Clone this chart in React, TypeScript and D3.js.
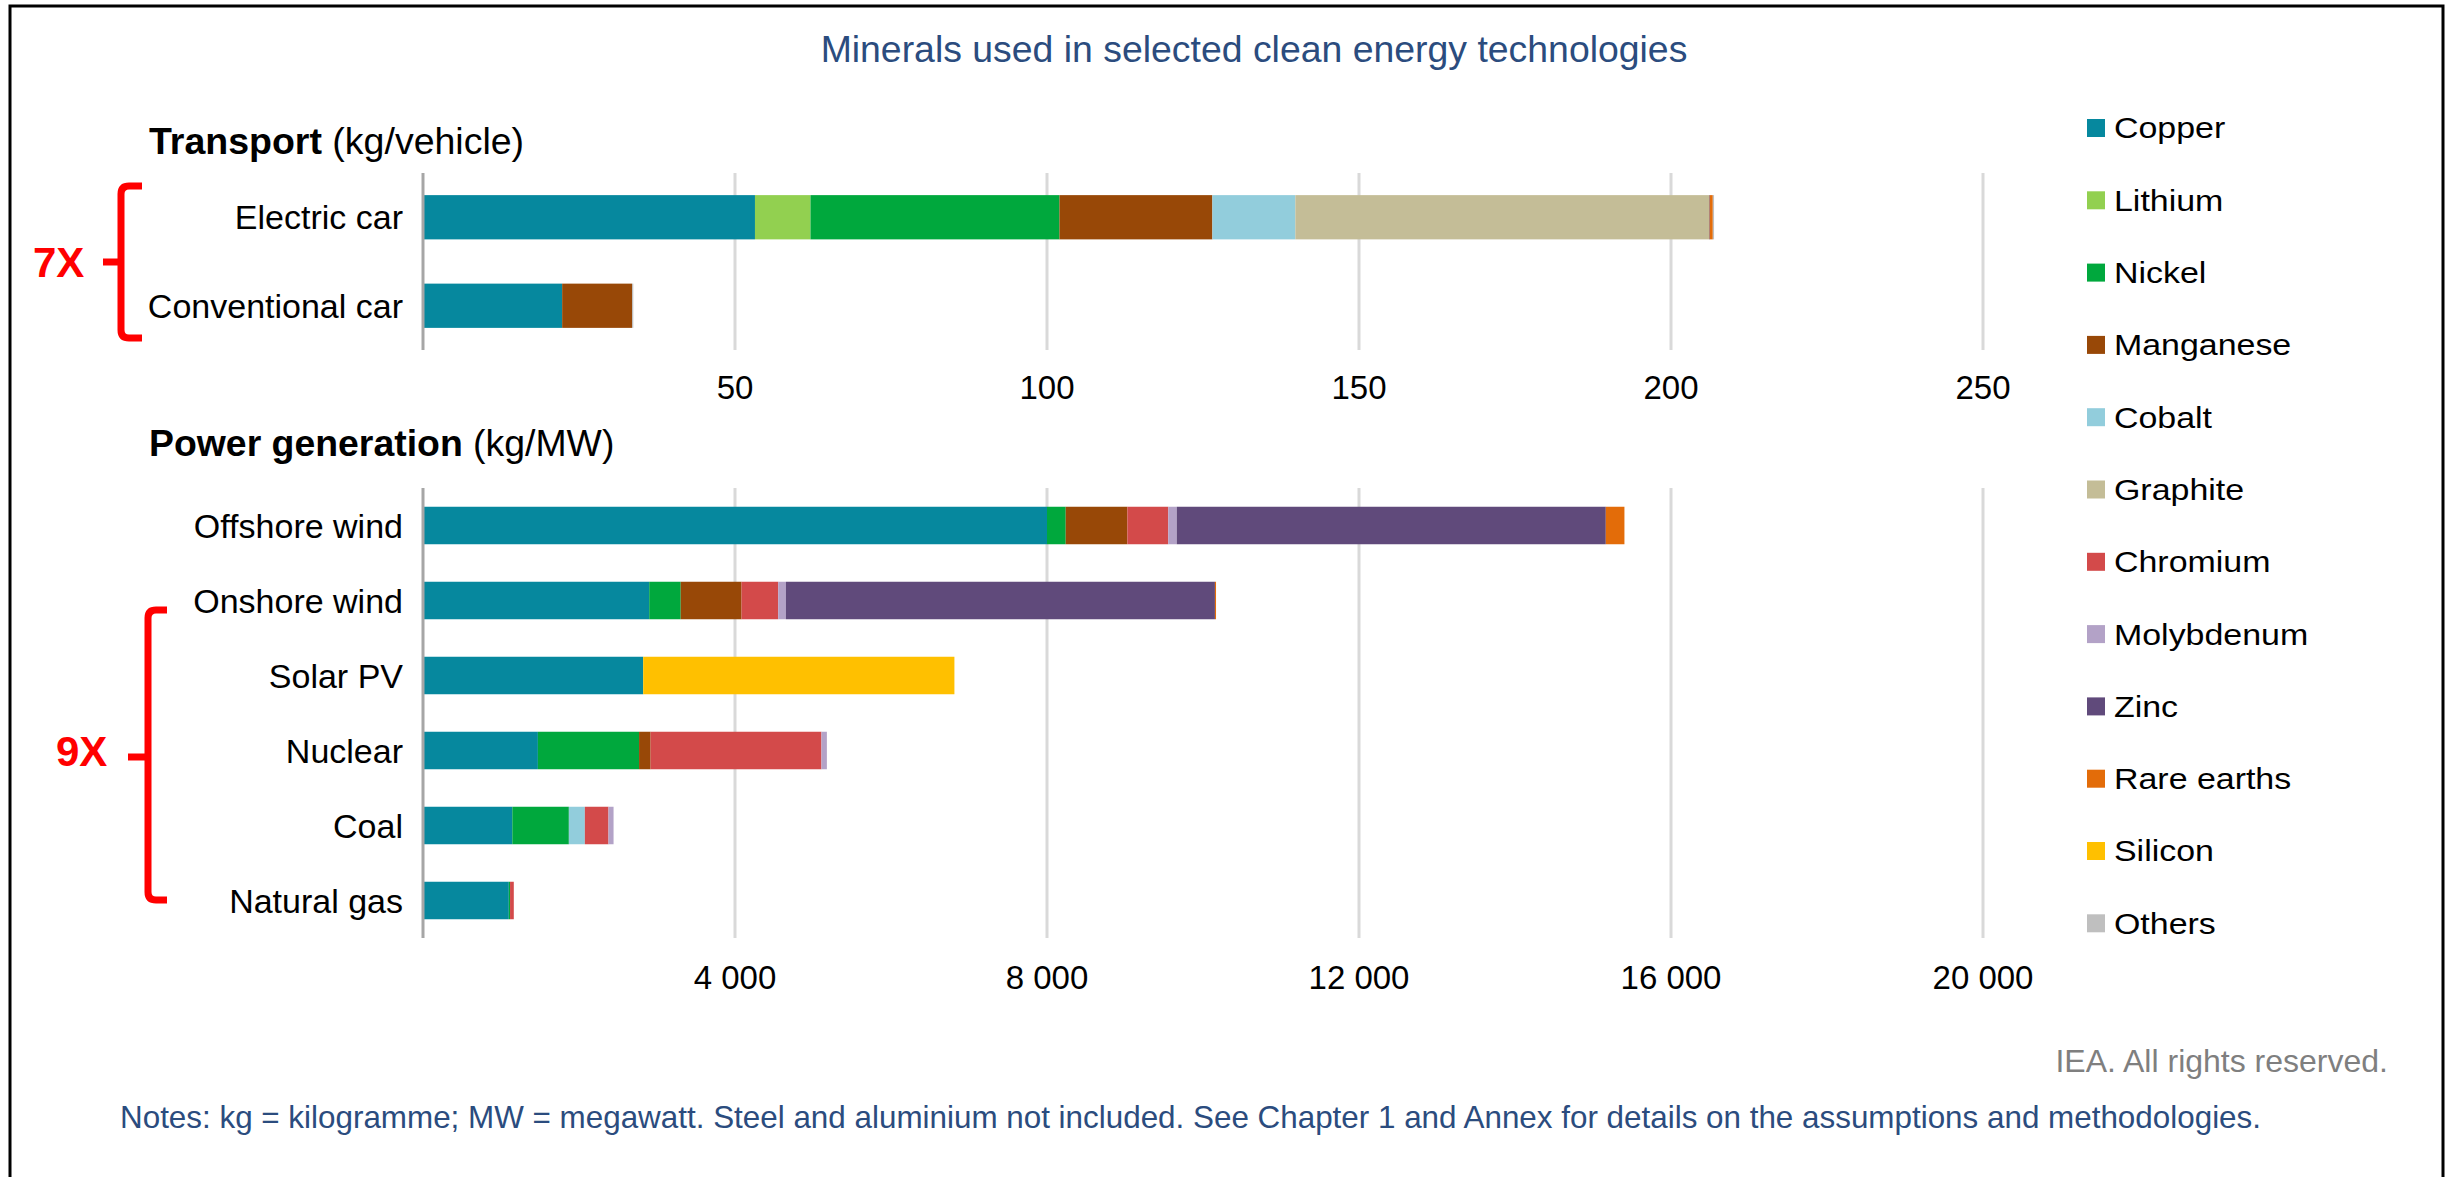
import React from "react";
import * as d3 from "d3";

const minerals = ["Copper", "Lithium", "Nickel", "Manganese", "Cobalt", "Graphite", "Chromium", "Molybdenum", "Zinc", "Rare earths", "Silicon", "Others"];
const mineralColors = ["#06889E", "#92D050", "#00A83D", "#984807", "#92CDDC", "#C4BD97", "#D34A4A", "#B3A2C7", "#604A7B", "#E36C09", "#FFC000", "#BFBFBF"];

// Transport (kg/vehicle)
const transportCats = ["Electric car", "Conventional car"];
const copperT = [53.2, 22.3];
const lithiumT = [8.9, 0];
const nickelT = [39.9, 0];
const manganeseT = [24.5, 11.2];
const cobaltT = [13.3, 0];
const graphiteT = [66.3, 0];
const chromiumT = [0, 0];
const molybdenumT = [0, 0];
const zincT = [0.1, 0];
const rareEarthsT = [0.5, 0];
const siliconT = [0, 0];
const othersT = [0.2, 0.2];
const transportTicks = [50, 100, 150, 200, 250];

// Power generation (kg/MW)
const powerCats = ["Offshore wind", "Onshore wind", "Solar PV", "Nuclear", "Coal", "Natural gas"];
const copperP = [8000, 2900, 2822, 1473, 1145, 1100];
const lithiumP = [0, 0, 0, 0, 0, 0];
const nickelP = [240, 404, 1, 1297, 725, 16];
const manganeseP = [790, 780, 0, 148, 0, 0];
const cobaltP = [0, 0, 0, 0, 205, 0];
const graphiteP = [0, 0, 0, 0, 0, 0];
const chromiumP = [525, 470, 0, 2190, 303, 48];
const molybdenumP = [109, 99, 0, 70, 65, 0];
const zincP = [5500, 5500, 0, 0, 0, 0];
const rareEarthsP = [239, 14, 0, 0, 0, 0];
const siliconP = [0, 0, 3990, 0, 0, 0];
const othersP = [0, 0, 0, 0, 0, 0];
const powerTicks = [4000, 8000, 12000, 16000, 20000];

const transportSeries = [copperT, lithiumT, nickelT, manganeseT, cobaltT, graphiteT, chromiumT, molybdenumT, zincT, rareEarthsT, siliconT, othersT];
const powerSeries = [copperP, lithiumP, nickelP, manganeseP, cobaltP, graphiteP, chromiumP, molybdenumP, zincP, rareEarthsP, siliconP, othersP];

const FONT = "'Liberation Sans', Arial, sans-serif";

function buildRows(cats: string[], series: number[][]) {
  return cats.map((c, i) => {
    const row: any = { cat: c };
    minerals.forEach((m, j) => (row[m] = series[j][i]));
    return row;
  });
}

const fmt = (v: number) => d3.format(",")(v).replace(/,/g, " ");

function Panel({ cats, series, xMax, ticks, y0, y1, tickY }: any) {
  const x = d3.scaleLinear().domain([0, xMax]).range([423, 1983]);
  const y = d3.scaleBand().domain(cats).range([y0, y1]).paddingInner(0.5).paddingOuter(0.25);
  const stacked = d3.stack().keys(minerals)(buildRows(cats, series));
  return (
    <g>
      {ticks.map((t: number) => (
        <line key={"g" + t} x1={x(t)} x2={x(t)} y1={y0} y2={y1} stroke="#D9D9D9" strokeWidth={3} />
      ))}
      {stacked.map((layer: any, j: number) => (
        <g key={minerals[j]} fill={mineralColors[j]}>
          {layer.map((d: any, i: number) =>
            d[1] - d[0] > 0 ? (
              <rect key={i} x={x(d[0])} width={x(d[1]) - x(d[0])} y={y(cats[i])} height={y.bandwidth()} />
            ) : null
          )}
        </g>
      ))}
      <line x1={x(0)} x2={x(0)} y1={y0} y2={y1} stroke="#A6A6A6" strokeWidth={3} />
      {cats.map((c: string) => (
        <text key={c} x={403} y={(y(c) as number) + y.bandwidth() / 2 + 12} textAnchor="end" fontSize={34} fill="#000">
          {c}
        </text>
      ))}
      {ticks.map((t: number) => (
        <text key={"t" + t} x={x(t)} y={tickY} textAnchor="middle" fontSize={33} fill="#000">
          {fmt(t)}
        </text>
      ))}
    </g>
  );
}

function Brace({ x, yTop, yBot, yMid, hookX, nubX }: any) {
  const r = 8;
  const p = `M${hookX},${yTop} L${x + r},${yTop} Q${x},${yTop} ${x},${yTop + r} L${x},${yBot - r} Q${x},${yBot} ${x + r},${yBot} L${hookX},${yBot}`;
  return (
    <g stroke="#FF0000" strokeWidth={7} fill="none">
      <path d={p} />
      <line x1={x} x2={nubX} y1={yMid} y2={yMid} />
    </g>
  );
}

export default function App() {
  return (
    <svg width={2450} height={1177} style={{ position: "absolute", left: 0, top: 0, background: "#fff" }} fontFamily={FONT}>
      <rect x={0} y={0} width={2450} height={1177} fill="#fff" />
      <path d="M10,1180 L10,6 L2443,6 L2443,1180" fill="none" stroke="#000" strokeWidth={3} />
      <text x={1254} y={62} textAnchor="middle" fontSize={37.4} fill="#2B4C7E">
        Minerals used in selected clean energy technologies
      </text>

      <text x={149} y={154} fontSize={37.5} fill="#000">
        <tspan fontWeight="bold">Transport</tspan> (kg/vehicle)
      </text>
      <Panel cats={transportCats} series={transportSeries} xMax={250} ticks={transportTicks} y0={173} y1={350} tickY={399} />

      <text x={149} y={456} fontSize={37.4} fill="#000">
        <tspan fontWeight="bold">Power generation</tspan> (kg/MW)
      </text>
      <Panel cats={powerCats} series={powerSeries} xMax={20000} ticks={powerTicks} y0={488} y1={938} tickY={989} />

      <Brace x={121} yTop={186} yBot={338} yMid={262} hookX={142} nubX={103} />
      <text x={33} y={277} fontSize={42} fontWeight="bold" fill="#FF0000">7X</text>
      <Brace x={148} yTop={610} yBot={900} yMid={757} hookX={167} nubX={128} />
      <text x={56} y={766} fontSize={42} fontWeight="bold" fill="#FF0000">9X</text>

      {minerals.map((m, i) => {
        const cy = 128 + i * 72.3;
        return (
          <g key={m}>
            <rect x={2087} y={cy - 9} width={18} height={18} fill={mineralColors[i]} />
            <text x={2114} y={cy + 10.5} fontSize={29} fill="#000" transform={`translate(2114,0) scale(1.17,1) translate(-2114,0)`}>
              {m}
            </text>
          </g>
        );
      })}

      <text x={2388} y={1072} textAnchor="end" fontSize={32} fill="#7F7F7F">
        IEA. All rights reserved.
      </text>
      <text x={120} y={1128} fontSize={31.4} fill="#2B4C7E">
        Notes: kg = kilogramme; MW = megawatt. Steel and aluminium not included. See Chapter 1 and Annex for details on the assumptions and methodologies.
      </text>
    </svg>
  );
}
